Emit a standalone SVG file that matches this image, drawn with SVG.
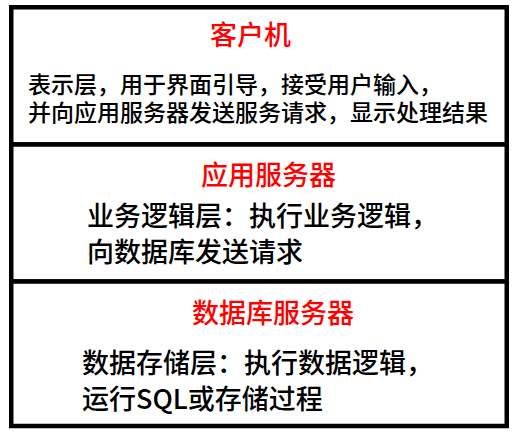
<svg xmlns="http://www.w3.org/2000/svg" width="517" height="438" viewBox="0 0 517 438">
<style>
.box{fill:#fff;stroke:#000;stroke-width:4.5}
.t{font-family:"Noto Sans CJK SC","Noto Sans",sans-serif;fill:#000;font-weight:500}
.title{fill:#ff0000;font-size:27px}
.b1{font-size:23px}
.b2{font-size:27px}
</style>
<rect x="0" y="0" width="517" height="438" fill="#fff"/>
<g id="client">
<rect class="box" x="11.25" y="7.25" width="495.5" height="137.25"/>
<text class="t title" x="210" y="44.5">客户机</text>
<text class="t b1"><tspan x="28" y="92.5">表示层，用于界面引导，接受用户输入，</tspan><tspan x="28" y="120.5">并向应用服务器发送服务请求，显示处理结果</tspan></text>
</g>
<g id="appserver">
<rect class="box" x="11.25" y="144.5" width="495.5" height="137"/>
<text class="t title" x="201" y="184.5">应用服务器</text>
<text class="t b2"><tspan x="87" y="226">业务逻辑层：执行业务逻辑，</tspan><tspan x="87" y="262">向数据库发送请求</tspan></text>
</g>
<g id="dbserver">
<rect class="box" x="11.25" y="281.5" width="495.5" height="144.5"/>
<text class="t title" x="192" y="322.5">数据库服务器</text>
<text class="t b2"><tspan x="82" y="372.5">数据存储层：执行数据逻辑，</tspan><tspan x="82" y="408.5">运行SQL或存储过程</tspan></text>
</g>
<g id="connectors"></g>
</svg>
